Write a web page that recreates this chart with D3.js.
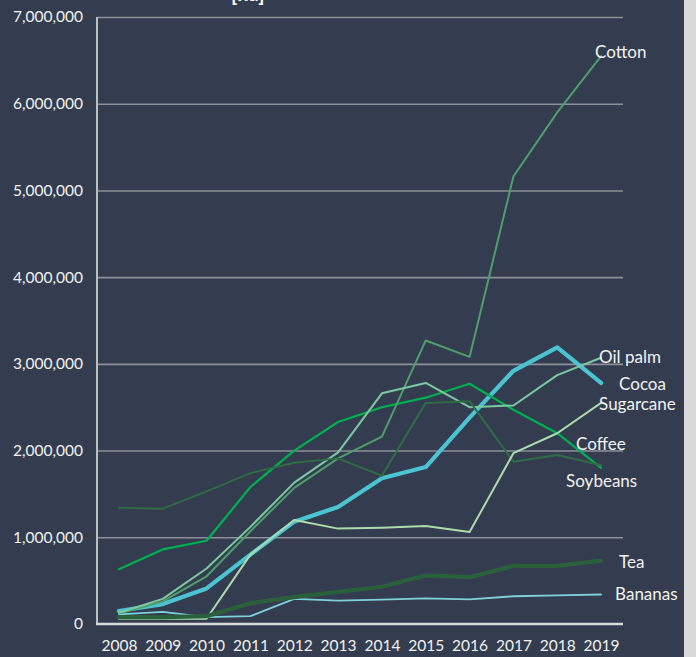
<!DOCTYPE html>
<html>
<head>
<meta charset="utf-8">
<script src="https://cdn.jsdelivr.net/npm/d3@7"></script>
<style>
  html, body { margin: 0; padding: 0; background: #333d4f; }
  svg { display: block; }
  text { font-family: Lato, "Open Sans", sans-serif; }
</style>
</head>
<body>
<svg id="chart" width="696" height="657"></svg>
<script>
// Years on the x axis
const years = ["2008","2009","2010","2011","2012","2013","2014","2015","2016","2017","2018","2019"];

// Series values, one array per crop
const bananas   = [110000, 140000, 80000, 90000, 290000, 270000, 280000, 295000, 285000, 320000, 330000, 340000];
const cocoa     = [150000, 230000, 410000, 800000, 1180000, 1350000, 1680000, 1810000, 2380000, 2920000, 3190000, 2780000];
const coffee    = [630000, 860000, 960000, 1580000, 2000000, 2330000, 2500000, 2610000, 2770000, 2470000, 2200000, 1800000];
const cotton    = [120000, 260000, 550000, 1070000, 1570000, 1910000, 2160000, 3270000, 3080000, 5160000, 5900000, 6550000];
const oilPalm   = [130000, 290000, 640000, 1120000, 1630000, 1980000, 2660000, 2780000, 2500000, 2520000, 2870000, 3070000];
const soybeans  = [1340000, 1330000, 1530000, 1740000, 1860000, 1910000, 1710000, 2550000, 2570000, 1870000, 1950000, 1830000];
const sugarcane = [60000, 60000, 60000, 800000, 1200000, 1100000, 1110000, 1130000, 1060000, 1970000, 2200000, 2550000];
const tea       = [80000, 80000, 90000, 240000, 310000, 370000, 430000, 560000, 540000, 670000, 670000, 730000];

// Y axis ticks
const yTicks = [0, 1000000, 2000000, 3000000, 4000000, 5000000, 6000000, 7000000];

const series = [
  { name: "Bananas",   values: bananas },
  { name: "Cocoa",     values: cocoa },
  { name: "Coffee",    values: coffee },
  { name: "Cotton",    values: cotton },
  { name: "Oil palm",  values: oilPalm },
  { name: "Soybeans",  values: soybeans },
  { name: "Sugarcane", values: sugarcane },
  { name: "Tea",       values: tea }
];

// Line styling and end-label placement per series
const style = {
  "Bananas":   { color: "#7fd0da", width: 1.8, dx: 14,  dy: 0 },
  "Cocoa":     { color: "#4cc3d0", width: 4.2, dx: 18,  dy: 1 },
  "Coffee":    { color: "#00b050", width: 2.2, dx: -25, dy: -24 },
  "Cotton":    { color: "#4f9f6d", width: 2.0, dx: -6,  dy: -4 },
  "Oil palm":  { color: "#7dc9a2", width: 2.0, dx: -2,  dy: -1 },
  "Soybeans":  { color: "#2f6c45", width: 2.0, dx: -35, dy: 16 },
  "Sugarcane": { color: "#acdcae", width: 2.0, dx: -2,  dy: 1 },
  "Tea":       { color: "#2b603d", width: 4.2, dx: 18,  dy: 1 }
};

const svg = d3.select("#chart");
const W = 696, H = 657;
const plotLeft = 97, plotRight = 623, plotTop = 17, plotBottom = 624;

svg.append("rect").attr("width", W).attr("height", H).attr("fill", "#333d4f");
// light frame strip at the right edge
svg.append("rect").attr("x", 684).attr("y", 0).attr("width", 12).attr("height", H).attr("fill", "#d9d9d9");

// title (top of the chart, running above the frame)
svg.append("text")
  .attr("x", 231).attr("y", 1)
  .attr("fill", "#ffffff")
  .attr("font-weight", "bold")
  .attr("font-size", 20)
  .text("[ha]");

const x = d3.scalePoint().domain(years).range([plotLeft, plotRight]).padding(0.5);
const y = d3.scaleLinear().domain([0, 7000000]).range([plotBottom, plotTop]);

// gridlines
svg.append("g")
  .attr("transform", `translate(${plotLeft},0)`)
  .call(d3.axisRight(y).tickValues(yTicks.filter(v => v > 0)).tickSize(plotRight - plotLeft).tickFormat(""))
  .call(g => g.select(".domain").remove())
  .call(g => g.selectAll("line").attr("stroke", "#8d9098").attr("stroke-width", 1.6));

// y axis labels
svg.append("g")
  .attr("transform", `translate(${plotLeft},0)`)
  .call(d3.axisLeft(y).tickValues(yTicks).tickSize(0).tickPadding(14).tickFormat(d3.format(",")))
  .call(g => g.select(".domain").remove())
  .call(g => g.selectAll("text").attr("fill", "#f2f2f2").attr("font-size", 15.5).attr("font-family", "Lato, sans-serif"));

// y axis line
svg.append("line")
  .attr("x1", plotLeft).attr("x2", plotLeft).attr("y1", plotTop).attr("y2", plotBottom)
  .attr("stroke", "#bfbfbf").attr("stroke-width", 2);

// x axis
svg.append("g")
  .attr("transform", `translate(0,${plotBottom})`)
  .call(d3.axisBottom(x).tickSize(0).tickPadding(16))
  .call(g => g.select(".domain").attr("stroke", "#d9d9d9").attr("stroke-width", 2.4)
      .attr("d", `M${plotLeft - 1},0H${plotRight}`))
  .call(g => g.selectAll("text").attr("fill", "#f2f2f2").attr("font-size", 15.5).attr("font-family", "Lato, sans-serif"));

const line = d3.line()
  .x((d, i) => x(years[i]))
  .y(d => y(d));

svg.append("g").selectAll("path")
  .data(series)
  .join("path")
  .attr("d", s => line(s.values))
  .attr("fill", "none")
  .attr("stroke", s => style[s.name].color)
  .attr("stroke-width", s => style[s.name].width)
  .attr("stroke-linejoin", "round")
  .attr("stroke-linecap", "round");

// end labels
svg.append("g").selectAll("text")
  .data(series)
  .join("text")
  .attr("x", s => x(years[years.length - 1]) + style[s.name].dx)
  .attr("y", s => y(s.values[s.values.length - 1]) + style[s.name].dy)
  .attr("dy", "0.35em")
  .attr("fill", "#f2f2f2")
  .attr("font-size", 17)
  .text(s => s.name);
</script>
</body>
</html>
